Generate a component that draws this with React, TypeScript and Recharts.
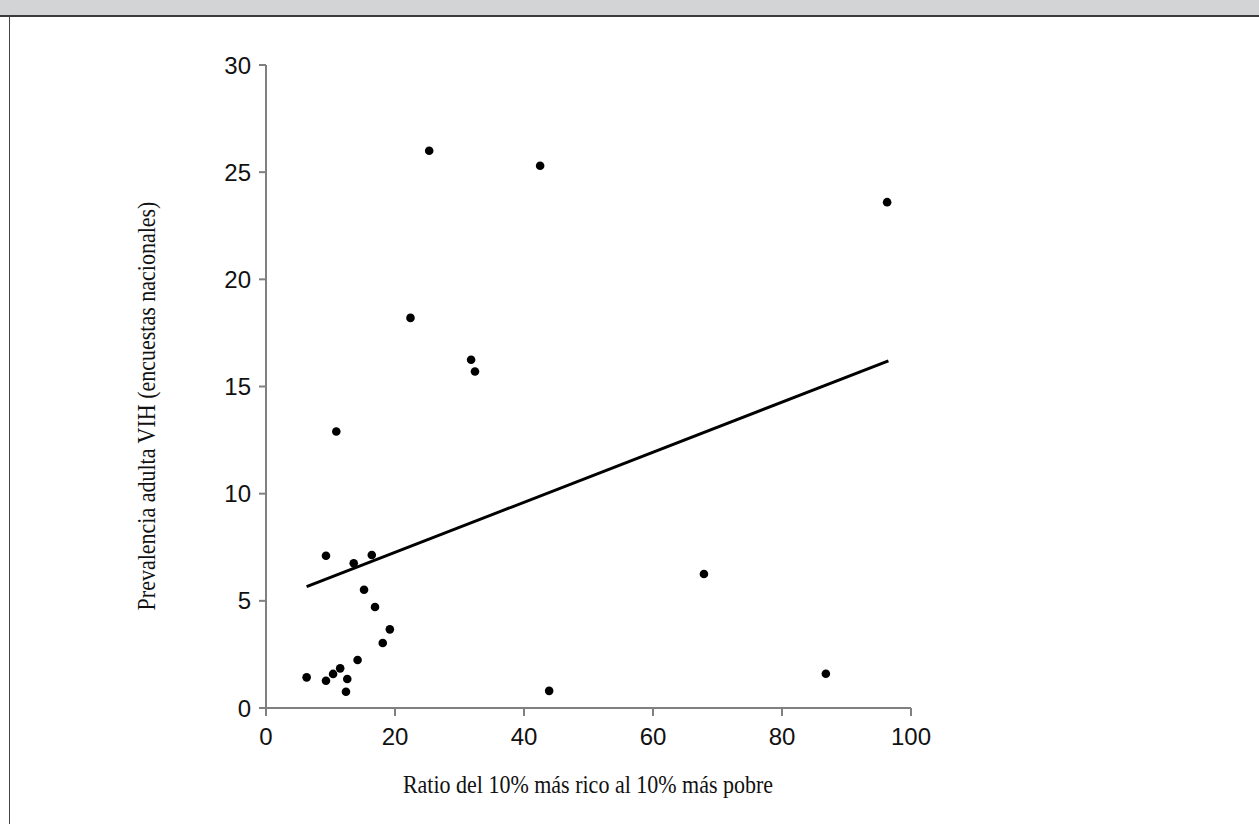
import { ScatterChart, Scatter, XAxis, YAxis, ReferenceLine } from 'recharts';

// Ratio del 10% más rico al 10% más pobre
const ratioRichPoor = [6.3, 9.3, 10.4, 11.5, 12.6, 12.4, 14.2, 15.2, 16.9, 18.1, 19.2, 13.6, 9.3, 16.4, 10.9, 22.4, 25.3, 31.8, 32.4, 42.5, 43.9, 67.9, 86.8, 96.3];
// Prevalencia adulta VIH (%)
const hivPrevalence = [1.43, 1.27, 1.59, 1.85, 1.35, 0.76, 2.24, 5.52, 4.71, 3.03, 3.67, 6.75, 7.1, 7.14, 12.9, 18.2, 26.0, 16.25, 15.7, 25.3, 0.8, 6.25, 1.6, 23.6];

const trendX = [6.3, 96.5];
const trendY = [5.66, 16.2];

const xTicks = [0, 20, 40, 60, 80, 100];
const yTicks = [0, 5, 10, 15, 20, 25, 30];

const points = ratioRichPoor.map((x, i) => ({ x, y: hivPrevalence[i] }));
const trend = trendX.map((x, i) => ({ x, y: trendY[i] }));

const tickStyle = { fontSize: 24, fill: '#111', fontFamily: '"Liberation Sans", Arial, sans-serif' };
const serif = '"Liberation Serif", "Times New Roman", serif';

export default function App() {
  return (
    <div style={{ position: 'absolute', left: 0, top: 0, width: 1259, height: 824, background: '#fff', overflow: 'hidden' }}>
      <div style={{ position: 'absolute', left: 0, top: 0, width: 1259, height: 15, background: '#d3d4d6', borderBottom: '2px solid #3a3a3a' }} />
      <div style={{ position: 'absolute', left: 9, top: 15, width: 1, height: 809, background: '#444' }} />

      <div style={{ position: 'absolute', left: 0, top: 0 }}>
        <ScatterChart width={1259} height={824} margin={{ top: 65, right: 348, bottom: 76, left: 206 }}>
          <XAxis
            type="number"
            dataKey="x"
            domain={[0, 100]}
            ticks={xTicks}
            height={40}
            stroke="#808080"
            strokeWidth={2}
            tickSize={8}
            tickMargin={12}
            tick={tickStyle}
          />
          <YAxis
            type="number"
            dataKey="y"
            domain={[0, 30]}
            ticks={yTicks}
            width={60}
            stroke="#808080"
            strokeWidth={2}
            tickSize={7}
            tickMargin={8}
            tick={tickStyle}
          />
          <ReferenceLine
            segment={trend}
            stroke="#000"
            strokeWidth={3}
            ifOverflow="visible"
          />
          <Scatter data={points} fill="#000" isAnimationActive={false} shape={(p: any) => <circle cx={p.cx} cy={p.cy} r={4.3} fill="#000" />} />
        </ScatterChart>
      </div>

      <div style={{ position: 'absolute', left: 147, top: 406, transform: 'translate(-50%, -50%) rotate(-90deg) scaleY(1.12)', whiteSpace: 'nowrap', fontFamily: serif, fontSize: 22, color: '#111' }}>
        Prevalencia adulta VIH (encuestas nacionales)
      </div>
      <div style={{ position: 'absolute', left: 588, top: 785, transform: 'translate(-50%, -50%) scaleY(1.12)', whiteSpace: 'nowrap', fontFamily: serif, fontSize: 22, color: '#111' }}>
        Ratio del 10% más rico al 10% más pobre
      </div>
    </div>
  );
}
